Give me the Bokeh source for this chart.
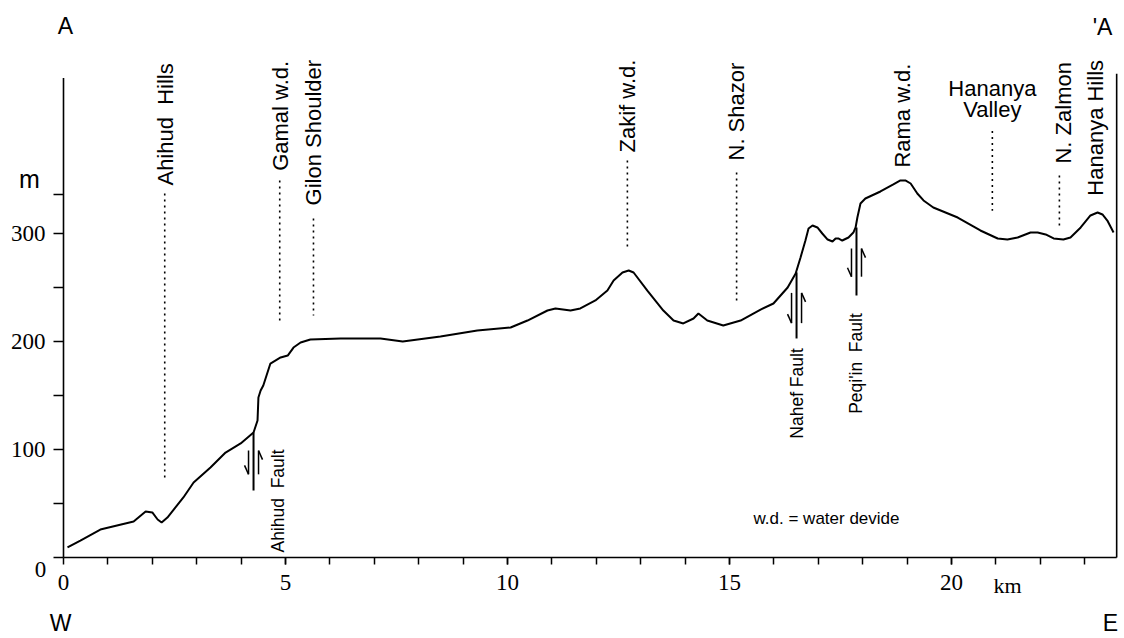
import numpy as np
from bokeh.plotting import figure
from bokeh.models import FixedTicker, Range1d
from bokeh.core.properties import value
from bokeh.embed import file_html
from bokeh.resources import INLINE

# ---------------- data ----------------
dist_km = [0.09, 0.38, 0.83, 1.58, 1.85, 2.00, 2.12, 2.21, 2.34, 2.70, 2.93, 3.31, 3.65, 3.99,
           4.28, 4.37, 4.39, 4.44, 4.50, 4.66, 4.89, 5.05, 5.18, 5.34, 5.56, 6.24, 7.14, 7.64,
           8.49, 9.32, 10.07, 10.45, 10.90, 11.08, 11.42, 11.64, 11.98, 12.25, 12.39, 12.59,
           12.73, 12.84, 13.15, 13.51, 13.74, 13.96, 14.19, 14.30, 14.50, 14.86, 15.25, 15.70,
           15.99, 16.31, 16.49, 16.60, 16.71, 16.78, 16.87, 16.98, 17.09, 17.21, 17.32, 17.39,
           17.45, 17.54, 17.68, 17.79, 17.84, 17.88, 17.95, 18.06, 18.40, 18.69, 18.85, 18.96,
           19.08, 19.23, 19.37, 19.59, 20.14, 20.65, 21.04, 21.26, 21.49, 21.78, 21.94, 22.12,
           22.30, 22.52, 22.68, 22.91, 23.13, 23.29, 23.40, 23.51, 23.65]
elev_m = [9.3, 15.7, 25.9, 33.3, 42.6, 41.7, 35.2, 32.4, 37.0, 55.6, 69.4, 83.3, 97.2, 105.6,
          115.7, 126.9, 148.1, 154.6, 159.3, 179.6, 185.2, 187.0, 194.4, 199.1, 201.9, 202.8,
          202.8, 200.0, 204.6, 210.2, 213.0, 219.4, 228.7, 230.6, 228.7, 230.6, 238.0, 247.2,
          256.5, 263.9, 265.7, 263.9, 247.2, 228.7, 219.4, 216.7, 221.3, 225.9, 219.4, 214.8,
          219.4, 229.6, 235.2, 250.0, 263.0, 277.8, 293.5, 304.6, 307.4, 305.6, 300.0, 294.4,
          292.6, 295.4, 295.4, 293.5, 296.3, 300.9, 305.6, 314.8, 327.8, 332.4, 338.9, 345.4,
          349.1, 349.1, 346.3, 337.0, 330.6, 324.1, 314.8, 302.8, 295.4, 294.4, 296.3, 300.9,
          300.9, 299.1, 295.4, 294.4, 296.3, 305.6, 316.7, 319.4, 317.6, 312.0, 300.9]

x_major_ticks = [0, 5, 10, 15, 20]
x_minor_ticks = list(range(1, 24))
y_major_ticks = [0, 100, 200, 300]
y_minor_ticks = [50, 150, 250, 336]
x_end_km = 23.72
y_axis_top_m = 444
right_line_top_m = 448

NB2 = "\u00a0\u00a0"   # a wide (double) gap that SVG will not collapse

# rotated place names: label, km position, elevation of text bottom
place_names = ["Ahihud" + NB2 + "Hills", "Gamal w.d.", "Gilon Shoulder", "Zakif w.d.",
               "N. Shazor", "Rama w.d.", "N. Zalmon", "Hananya Hills"]
place_km = [2.30, 4.89, 5.63, 12.70, 15.16, 18.90, 22.52, 23.24]
place_base_m = [344.4, 358.0, 326.0, 375.0, 367.6, 361.0, 364.8, 335.0]

# dotted leader lines: km, top, bottom
leader_km = [2.28, 4.87, 5.63, 12.70, 15.16, 20.92, 22.43]
leader_top = [337.0, 349.0, 314.0, 367.6, 356.5, 395.0, 353.7]
leader_bot = [73.0, 217.6, 224.0, 286.0, 238.0, 321.0, 307.4]

valley_lines = ["Hananya", "Valley"]
valley_km = 20.92
valley_mid_m = [434.3, 414.8]

# faults
fault_names = ["Ahihud" + NB2 + "Fault", "Nahef Fault", "Peqi'in" + NB2 + "Fault"]
fault_km = [4.28, 16.51, 17.86]
fault_top = [115.7, 264.0, 305.6]
fault_bot = [62.0, 202.8, 242.6]
fault_arrow_top = [99.0, 245.0, 286.0]
fault_arrow_bot = [77.0, 217.0, 260.0]
fault_label_km = [4.82, 16.51, 17.84]
fault_label_base = [4.6, 110.0, 133.0]

# ---------------- geometry ----------------
W, H = 1124, 638
X0, Y0 = 63.0, 557.0         # pixel position of (0 km, 0 m)
KX, KY = 44.4, 1.08          # px per km, px per m

def dx(px):
    return px / KX

def dy(px):
    return px / KY

p = figure(width=W, height=H, output_backend="svg", toolbar_location=None,
           x_range=Range1d(-X0 / KX, (W - X0) / KX),
           y_range=Range1d(-(H - Y0) / KY, Y0 / KY),
           min_border=0, background_fill_color="white", border_fill_color="white")
p.outline_line_color = None
p.grid.visible = False

serif = "Liberation Serif"
sans = "Liberation Sans"

# axes (fixed inside the frame)
p.xaxis.fixed_location = 0
p.yaxis.fixed_location = 0
p.xaxis.ticker = FixedTicker(ticks=x_major_ticks, minor_ticks=x_minor_ticks)
p.yaxis.ticker = FixedTicker(ticks=y_major_ticks, minor_ticks=y_minor_ticks)
p.yaxis.major_label_overrides = {0: ""}
for ax in (p.xaxis, p.yaxis):
    ax.axis_line_color = None
    ax.major_tick_in = 0
    ax.minor_tick_in = 0
    ax.major_tick_line_color = "black"
    ax.minor_tick_line_color = "black"
    ax.major_tick_line_width = 1.5
    ax.minor_tick_line_width = 1.5
    ax.major_label_text_font = serif
    ax.major_label_text_font_size = "23px"
    ax.major_label_text_color = "black"
p.xaxis.major_tick_out = 7
p.xaxis.minor_tick_out = 7
p.xaxis.major_label_standoff = 10
p.yaxis.major_tick_out = 10
p.yaxis.minor_tick_out = 10
p.yaxis.major_label_standoff = 8

# axis lines and right frame line
p.segment(x0=[0, 0, x_end_km], y0=[0, 0, 0], x1=[x_end_km, 0, x_end_km],
          y1=[0, y_axis_top_m, right_line_top_m], line_color="black", line_width=1.6)

# profile
p.line(dist_km, elev_m, line_color="black", line_width=2)

# dotted leaders
p.segment(x0=leader_km, y0=leader_top, x1=leader_km, y1=leader_bot,
          line_color="black", line_width=1.6, line_dash="2 4")

# faults
p.segment(x0=fault_km, y0=fault_top, x1=fault_km, y1=fault_bot,
          line_color="black", line_width=2)
fk = np.array(fault_km)
at = np.array(fault_arrow_top)
ab = np.array(fault_arrow_bot)
left_x = fk - dx(5)
right_x = fk + dx(5)
# shafts
p.segment(x0=np.concatenate([left_x, right_x]), y0=np.concatenate([at, ab]),
          x1=np.concatenate([left_x, right_x]), y1=np.concatenate([ab, at]),
          line_color="black", line_width=1.5)
# barbs: left arrow points down (barb at bottom, to the left), right arrow points up
p.segment(x0=np.concatenate([left_x, right_x]), y0=np.concatenate([ab, at]),
          x1=np.concatenate([left_x - dx(4), right_x + dx(4)]),
          y1=np.concatenate([ab + dy(9), at - dy(9)]),
          line_color="black", line_width=1.5)

# rotated place names
p.text(x=place_km, y=place_base_m, text=place_names, angle=np.pi / 2,
       text_align="left", text_baseline="middle", text_font=value(sans),
       text_font_size="22px", text_color="black")
p.text(x=[valley_km, valley_km], y=valley_mid_m, text=valley_lines,
       text_align="center", text_baseline="middle", text_font=value(sans),
       text_font_size="22px", text_color="black")

# fault labels
p.text(x=fault_label_km, y=fault_label_base, text=fault_names, angle=np.pi / 2,
       text_align="left", text_baseline="middle", text_font=value(sans),
       text_font_size="17.5px", text_color="black")

# corner letters
p.text(x=[dx(2), dx(1102 - X0), dx(-3), dx(1110 - X0)],
       y=[dy(Y0 - 25), dy(Y0 - 26), -dy(622 - Y0), -dy(622 - Y0)],
       text=["A", "'A", "W", "E"], text_align="center", text_baseline="middle",
       text_font=value(sans), text_font_size="23px", text_color="black")

# unit labels and the y zero label
p.text(x=[dx(1007 - X0)], y=[-dy(585 - Y0)], text=["km"], text_align="center",
       text_baseline="middle", text_font=value(serif), text_font_size="22px",
       text_color="black")
p.text(x=[-dx(X0 - 40)], y=[-dy(569 - Y0)], text=["0"], text_align="center",
       text_baseline="middle", text_font=value(serif), text_font_size="23px",
       text_color="black")
p.text(x=[-dx(X0 - 29)], y=[dy(Y0 - 178)], text=["m"], text_align="center",
       text_baseline="middle", text_font=value(sans), text_font_size="25px",
       text_color="black")

# note
p.text(x=[dx(753 - X0)], y=[dy(Y0 - 518)], text=["w.d. = water devide"],
       text_align="left", text_baseline="middle", text_font=value(sans),
       text_font_size="17px", text_color="black")

open("out.html", "w").write(file_html(p, INLINE))
